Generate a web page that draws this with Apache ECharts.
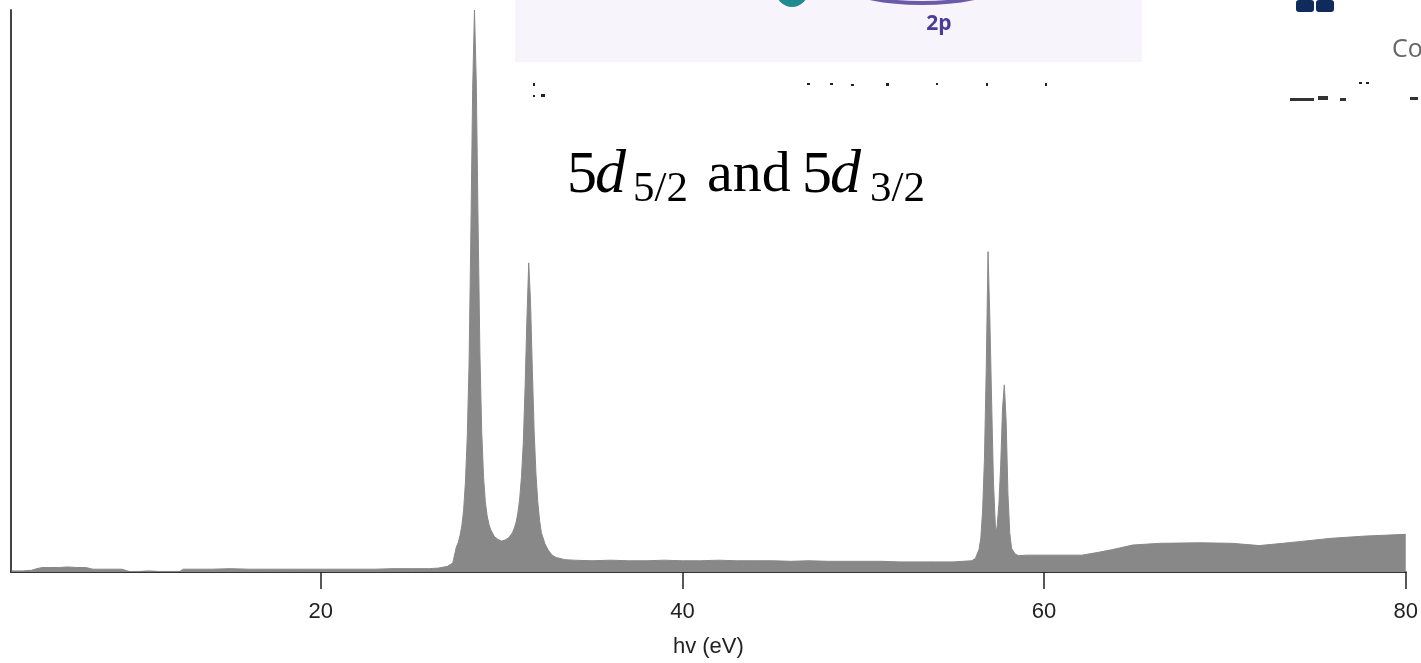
<!DOCTYPE html>
<html><head><meta charset="utf-8">
<script src="https://cdn.jsdelivr.net/npm/echarts@6/dist/echarts.min.js"></script>
<style>html,body{margin:0;padding:0;background:#fff}#c{width:1421px;height:663px}</style>
</head><body><div id="c"></div>
<script>
// Photon energy (eV) and relative intensity (%)
const energy = [
  2.9, 3.5, 4.0, 4.3, 4.6, 5.0, 5.5, 6.0, 6.5, 7.0, 7.4, 8.0, 8.5, 9.0, 9.4, 10.0, 10.5, 11.0, 11.5, 12.2,
  12.4, 13, 14, 15, 16, 17, 18, 19, 20, 21, 22, 23, 24, 25, 26, 26.5, 27.0, 27.3,
  27.5, 27.6, 27.7, 27.8, 27.9, 28.0, 28.1, 28.2, 28.3, 28.4, 28.5, 28.6, 28.7, 28.8, 28.9, 29.0,
  29.1, 29.2, 29.3, 29.4, 29.6, 29.8, 30.0, 30.2, 30.4, 30.6, 30.7, 30.8, 30.9, 31.0, 31.1, 31.2,
  31.3, 31.4, 31.5, 31.6, 31.7, 31.8, 31.9, 32.0, 32.1, 32.2, 32.4, 32.6, 32.8, 33.0, 33.5,
  34, 35, 36, 37, 38, 39, 40, 41, 42, 43, 44, 45, 46, 47, 48, 49, 50, 51, 52, 53, 54, 55, 55.5,
  56.0, 56.2, 56.4, 56.5, 56.6, 56.7, 56.8, 56.9, 57.0, 57.1, 57.2, 57.3, 57.35, 57.4, 57.5, 57.6,
  57.7, 57.8, 57.9, 58.0, 58.1, 58.2, 58.4, 58.6, 59, 60, 61, 62.1, 63.0, 63.8, 64.9, 66.4,
  68.6, 70.4, 71.9, 73.2, 74.1, 75.9, 77.8, 80.0
];
const intensity = [
  0.2, 0.2, 0.3, 0.6, 0.8, 0.8, 0.8, 0.9, 0.8, 0.8, 0.5, 0.5, 0.5, 0.5, 0.1, 0.1, 0.2, 0.1, 0.1, 0.1,
  0.5, 0.5, 0.5, 0.6, 0.5, 0.5, 0.5, 0.5, 0.5, 0.5, 0.5, 0.5, 0.6, 0.6, 0.6, 0.7, 1.0, 1.6,
  4.5, 5.2, 6.5, 8.2, 11, 16, 24, 37, 60, 86, 100, 87, 62, 39, 25, 17,
  12.5, 10, 8.5, 7.5, 6.3, 5.8, 5.5, 5.7, 6.1, 7.0, 7.8, 8.8, 10.5, 13, 17, 23,
  33, 45, 55, 48, 36, 25, 17.5, 12.5, 9.2, 7.0, 5.0, 3.8, 3.0, 2.6, 2.2,
  2.1, 2.0, 2.1, 2.0, 2.0, 2.1, 2.0, 2.0, 2.1, 2.0, 2.0, 2.0, 1.9, 2.0, 1.9, 1.9, 1.9, 1.9, 1.8, 1.8, 1.8, 1.8, 1.9,
  2.0, 2.4, 4.0, 6, 11, 20, 36, 57, 45, 30, 16, 8.5, 7.2, 8, 12, 19,
  29, 33.3, 27, 14, 7, 4.2, 3.2, 2.9, 3.0, 3.0, 3.0, 3.0, 3.5, 4.0, 4.8, 5.1,
  5.2, 5.1, 4.7, 5.1, 5.4, 6.0, 6.4, 6.7
];
const tickValues = [20, 40, 60, 80];
const axisTitle = 'hv (eV)';

const chart = echarts.init(document.getElementById('c'), null, {renderer: 'canvas'});
const seriesData = energy.map((e, i) => [e, intensity[i]]);

const serif = "'Liberation Serif', 'Times New Roman', serif";
const option = {
  animation: false,
  backgroundColor: '#ffffff',
  grid: {left: 11, right: 15, top: 10, bottom: 91, containLabel: false},
  xAxis: {
    type: 'value', min: 2.87, max: 80,
    axisLine: {show: true, onZero: false, lineStyle: {color: '#333', width: 2}},
    axisTick: {show: true, customValues: tickValues, length: 17, lineStyle: {color: '#222', width: 1.5}},
    axisLabel: {show: true, customValues: tickValues, margin: 29, color: '#222', fontFamily: "'Liberation Sans', Arial, sans-serif", fontSize: 22},
    splitLine: {show: false},
    name: axisTitle, nameLocation: 'middle', nameGap: 64,
    nameTextStyle: {color: '#222', fontFamily: "'Liberation Sans', Arial, sans-serif", fontSize: 22}
  },
  yAxis: {
    type: 'value', min: 0, max: 100,
    axisLine: {show: true, lineStyle: {color: '#444', width: 2}},
    axisTick: {show: false}, axisLabel: {show: false}, splitLine: {show: false}
  },
  series: [{
    type: 'line', data: seriesData, symbol: 'none', smooth: false,
    lineStyle: {color: '#888888', width: 1},
    areaStyle: {color: '#888888', opacity: 1},
    z: 1
  }],
  graphic: [
    // fragment of an overlapping slide picture at the top
    {type: 'rect', shape: {x: 515, y: 0, width: 627, height: 62}, style: {fill: '#f7f5fb'}, z: 0},
    {type: 'circle', shape: {cx: 792, cy: -9, r: 16}, style: {fill: '#1f8a90'}, z: 1},
    {type: 'ellipse', shape: {cx: 922, cy: -12, rx: 70, ry: 15}, style: {fill: 'none', stroke: '#6b5aa8', lineWidth: 4}, z: 1},
    {type: 'text', x: 939, y: 24, style: {text: '2p', fill: '#4b3c96', font: "bold 21px 'Open Sans', sans-serif", align: 'center', verticalAlign: 'middle'}, z: 1},
    {type: 'rect', shape: {x: 1296, y: 0, width: 18, height: 12, r: 3}, style: {fill: '#0f2a5c'}, z: 1},
    {type: 'rect', shape: {x: 1316, y: 0, width: 18, height: 12, r: 3}, style: {fill: '#0f2a5c'}, z: 1},
    {type: 'text', x: 1392, y: 50, style: {text: 'Co', fill: '#666', font: "25px 'Open Sans', sans-serif", verticalAlign: 'middle'}, z: 1},
    // tiny remnants of text
    {type: 'rect', shape: {x: 533, y: 83, width: 2, height: 3}, style: {fill: '#222'}},
    {type: 'rect', shape: {x: 533, y: 95, width: 2, height: 2}, style: {fill: '#222'}},
    {type: 'rect', shape: {x: 541, y: 94, width: 4, height: 3}, style: {fill: '#222'}},
    {type: 'rect', shape: {x: 807, y: 83, width: 3, height: 2}, style: {fill: '#222'}},
    {type: 'rect', shape: {x: 830, y: 83, width: 3, height: 2}, style: {fill: '#222'}},
    {type: 'rect', shape: {x: 851, y: 84, width: 3, height: 2}, style: {fill: '#222'}},
    {type: 'rect', shape: {x: 886, y: 83, width: 3, height: 3}, style: {fill: '#222'}},
    {type: 'rect', shape: {x: 936, y: 83, width: 2, height: 2}, style: {fill: '#222'}},
    {type: 'rect', shape: {x: 986, y: 83, width: 2, height: 3}, style: {fill: '#222'}},
    {type: 'rect', shape: {x: 1045, y: 83, width: 2, height: 3}, style: {fill: '#222'}},
    {type: 'rect', shape: {x: 1359, y: 82, width: 3, height: 2}, style: {fill: '#222'}},
    {type: 'rect', shape: {x: 1366, y: 82, width: 3, height: 2}, style: {fill: '#222'}},
    {type: 'rect', shape: {x: 1290, y: 98, width: 24, height: 3}, style: {fill: '#333'}},
    {type: 'rect', shape: {x: 1318, y: 96, width: 10, height: 4}, style: {fill: '#333'}},
    {type: 'rect', shape: {x: 1340, y: 98, width: 6, height: 3}, style: {fill: '#333'}},
    {type: 'rect', shape: {x: 1410, y: 97, width: 8, height: 3}, style: {fill: '#333'}},
    // annotation 5d5/2 and 5d3/2
    {type: 'group', x: 0, y: 0, children: [
      {type: 'text', x: 567, y: 176, style: {text: '5', fill: '#000', font: '60px ' + serif, verticalAlign: 'middle'}},
      {type: 'text', x: 595, y: 176, style: {text: 'd', fill: '#000', font: 'italic 62px ' + serif, verticalAlign: 'middle'}},
      {type: 'text', x: 633, y: 190, style: {text: '5/2', fill: '#000', font: '43px ' + serif, verticalAlign: 'middle'}},
      {type: 'text', x: 707, y: 176, style: {text: 'and', fill: '#000', font: '58px ' + serif, verticalAlign: 'middle'}},
      {type: 'text', x: 802, y: 176, style: {text: '5', fill: '#000', font: '60px ' + serif, verticalAlign: 'middle'}},
      {type: 'text', x: 830, y: 176, style: {text: 'd', fill: '#000', font: 'italic 62px ' + serif, verticalAlign: 'middle'}},
      {type: 'text', x: 870, y: 190, style: {text: '3/2', fill: '#000', font: '43px ' + serif, verticalAlign: 'middle'}}
    ]}
  ]
};
chart.setOption(option);
</script>
</body></html>
